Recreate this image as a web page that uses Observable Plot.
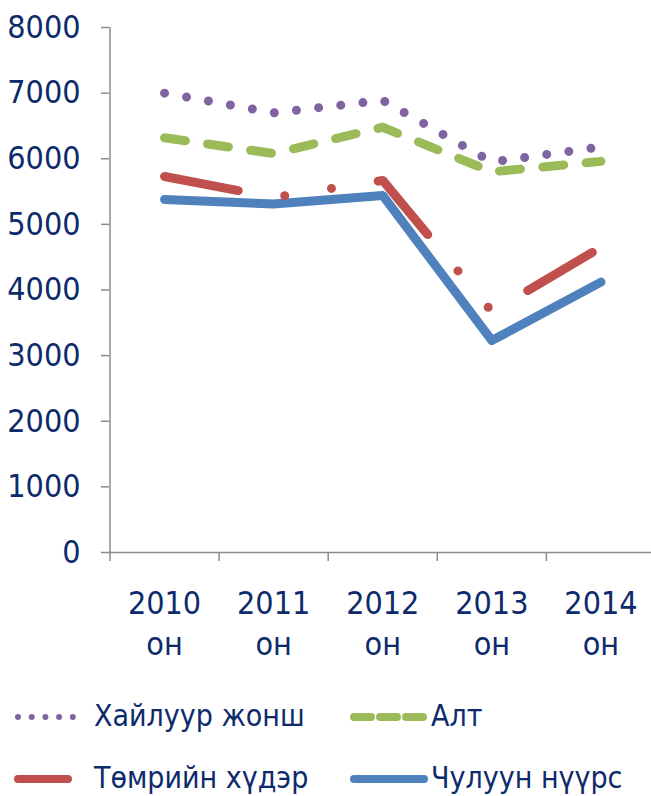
<!DOCTYPE html>
<html><head><meta charset="utf-8">
<script src="https://cdn.jsdelivr.net/npm/d3@7"></script>
<script src="https://cdn.jsdelivr.net/npm/@observablehq/plot@0.6"></script>
<style>
body{margin:0;background:#fff;font-family:"DejaVu Sans Condensed","DejaVu Sans",sans-serif;color:#0d2a6b}
#wrap{position:relative;width:651px;height:796px;overflow:hidden}
#legend{position:absolute;left:0;top:0;width:651px;height:796px;pointer-events:none}
.item{position:absolute;display:flex;align-items:center;font-size:30px;line-height:1;white-space:nowrap}
.item svg{display:block}
</style></head><body>
<div id="wrap"><div id="chart"></div><div id="legend"></div></div>
<script>
const years = ["2010", "2011", "2012", "2013", "2014"];
const yearSuffix = "он";
const seriesNames = ["Хайлуур жонш", "Алт", "Төмрийн хүдэр", "Чулуун нүүрс"];
const fluorspar = [7000, 6700, 6890, 5950, 6180];
const gold = [6320, 6080, 6480, 5800, 5960];
const ironOre = [5730, 5410, 5670, 3670, 4650];
const coal = [5380, 5310, 5440, 3230, 4120];
const yTicks = [0, 1000, 2000, 3000, 4000, 5000, 6000, 7000, 8000];
const colors = ["#8064a2", "#9bbb59", "#c0504d", "#4f81bd"];
const dashes = ["0 22.3", "21 22.5", "75 47.3 0 47.3 0 47.3", null];

const values = [fluorspar, gold, ironOre, coal];
const idx = years.map((_, i) => i);
const rows = seriesNames.flatMap((name, s) => values[s].map((v, i) => ({name, s, i, v})));
const font = '"DejaVu Sans Condensed","DejaVu Sans",sans-serif';
const textColor = "#0d2a6b";
const axisColor = "#8c8c8c";

const lineMark = (s) => Plot.line(rows.filter(d => d.s === s), {
  x: "i", y: "v", stroke: colors[s], strokeWidth: 9,
  strokeDasharray: dashes[s], strokeLinecap: "round", strokeLinejoin: "round"
});

const chart = Plot.plot({
  width: 651, height: 670,
  marginLeft: 109, marginRight: 0, marginTop: 27, marginBottom: 118,
  x: {domain: [-0.5, idx.length - 0.5], range: [109.5, 655]},
  y: {domain: [0, 8000]},
  style: {fontFamily: font, fontSize: "32px", color: textColor, background: "white", overflow: "visible"},
  marks: [
    Plot.axisY({ticks: yTicks, tickSize: 8, tickPadding: 21, stroke: axisColor, fill: textColor, strokeWidth: 1.5, tickFormat: d => String(d), label: null}),
    Plot.axisX({ticks: idx.concat(idx.length).map(i => i - 0.5), tickSize: 9, stroke: axisColor, strokeWidth: 1.5, tickFormat: () => "", label: null}),
    Plot.axisX({ticks: idx, tickSize: 0, tickPadding: 32, lineHeight: 1.28, fill: textColor, tickFormat: i => years[i] + "\n" + yearSuffix, label: null}),
    Plot.ruleY([0], {stroke: axisColor, strokeWidth: 1.5}),
    Plot.ruleX([-0.5], {y1: 0, y2: 8000, stroke: axisColor, strokeWidth: 1.5}),
    lineMark(3), lineMark(2), lineMark(1), lineMark(0)
  ]
});
document.getElementById("chart").appendChild(chart);

// legend
const legend = document.getElementById("legend");
const legendPos = [
  {left: 12, top: 717, w: 68, textLeft: 94},
  {left: 348, top: 717, w: 82, textLeft: 431},
  {left: 12, top: 779, w: 62, textLeft: 94},
  {left: 348, top: 779, w: 82, textLeft: 431}
];
const legendDash = ["0 13.7", "17 9", null, null];
seriesNames.forEach((name, s) => {
  const p = legendPos[s];
  const sw = document.createElementNS("http://www.w3.org/2000/svg", "svg");
  sw.setAttribute("width", p.w); sw.setAttribute("height", 16);
  sw.style.position = "absolute"; sw.style.left = p.left + "px"; sw.style.top = (p.top - 8) + "px";
  const ln = document.createElementNS("http://www.w3.org/2000/svg", "line");
  const x1 = 6, x2 = p.w - 6;
  ln.setAttribute("x1", x1); ln.setAttribute("x2", x2); ln.setAttribute("y1", 8); ln.setAttribute("y2", 8);
  ln.setAttribute("stroke", colors[s]);
  ln.setAttribute("stroke-width", s === 0 ? 6 : 8);
  ln.setAttribute("stroke-linecap", "round");
  if (legendDash[s]) ln.setAttribute("stroke-dasharray", legendDash[s]);
  sw.appendChild(ln);
  legend.appendChild(sw);
  const t = document.createElement("div");
  t.className = "item";
  t.textContent = name;
  t.style.left = p.textLeft + "px";
  t.style.top = (p.top - 16) + "px";
  legend.appendChild(t);
});
</script>
</body></html>
